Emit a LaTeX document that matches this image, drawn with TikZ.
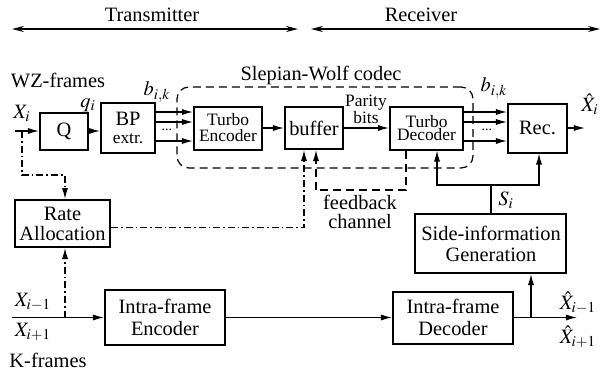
\documentclass[tikz,border=0pt]{standalone}
\usepackage{fontspec}
\setmainfont{Liberation Serif}
\usepackage{mathptmx}
\setmainfont{Liberation Serif}
\usetikzlibrary{arrows.meta}
\tikzset{
  box/.style={draw, line width=1pt, align=center, inner sep=1pt},
  arr/.style={-{Latex[length=5.5pt,width=3pt]}, line width=0.6pt},
  ln/.style={line width=0.6pt},
  dd/.style={line width=0.6pt, dash pattern=on 3.5pt off 1.5pt on 0.8pt off 1.5pt},
  ddarr/.style={dd, -{Latex[length=5.5pt,width=3pt]}},
  fb/.style={line width=0.6pt, dash pattern=on 4pt off 2.5pt, -{Latex[length=5.5pt,width=3pt]}},
  swbox/.style={draw, line width=0.6pt, dash pattern=on 4pt off 2.5pt, rounded corners=6pt, inner sep=0pt},
  tarr/.style={{Stealth[length=6pt,width=3pt]}-{Stealth[length=6pt,width=3pt]}, line width=0.6pt},
  lab/.style={inner sep=0pt},
  smallf/.style={font=\fontsize{8.7}{8}\selectfont}
}
\begin{document}
\begin{tikzpicture}[x=0.5pt,y=-0.5pt, font=\rmfamily\fontsize{10.2}{10.5}\selectfont]
\useasboundingbox (0,0) rectangle (602,371);

% top arrows
\coordinate (t1) at (12,29); \coordinate (t2) at (298,29);
\coordinate (r1) at (311,29); \coordinate (r2) at (600,29);
\draw[tarr] (t1) -- (t2);
\draw[tarr] (r1) -- (r2);
\node[lab] (ttx) at (152,15) {Transmitter};
\node[lab] (rtx) at (421,15) {Receiver};

% Slepian-Wolf dashed region
\node[swbox, minimum width=148pt, minimum height=40.5pt] (SW) at (325,127.5) {};
\node[lab] (swt) at (321,75) {Slepian-Wolf codec};

% boxes
\node[box, minimum width=24pt, minimum height=18.5pt] (Q) at (64,131) {Q};
\node[box, minimum width=27pt, minimum height=25pt, font=\rmfamily\fontsize{10.2}{9}\selectfont] (BP) at (128,128) {BP\\{\fontsize{8.7}{9}\selectfont extr.}};
\node[box, font=\rmfamily\fontsize{8.7}{8}\selectfont, minimum width=34pt, minimum height=21.5pt] (TE) at (228,128) {Turbo\\Encoder};
\node[box, minimum width=29pt, minimum height=21pt] (BUF) at (314,128) {buffer};
\node[box, font=\rmfamily\fontsize{8.7}{6.5}\selectfont, minimum width=36.5pt, minimum height=21.5pt] (TD) at (426.5,128) {Turbo\\Decoder};
\node[box, minimum width=29.5pt, minimum height=24.5pt] (REC) at (537.5,128) {Rec.};
\node[box, font=\rmfamily\fontsize{10.2}{10}\selectfont, minimum width=47.5pt, minimum height=23.5pt] (RA) at (62.5,223.5) {Rate\\Allocation};
\node[box, font=\rmfamily\fontsize{10.2}{10.5}\selectfont, minimum width=75.5pt, minimum height=29.5pt] (SI) at (491,243.5) {Side-information\\Generation};
\node[box, font=\rmfamily\fontsize{10.2}{11}\selectfont, minimum width=60pt, minimum height=27.5pt] (IE) at (165,317.5) {Intra-frame\\Encoder};
\node[box, font=\rmfamily\fontsize{10.2}{11}\selectfont, minimum width=60pt, minimum height=26pt] (ID) at (453,317.5) {Intra-frame\\Decoder};

% labels
\node[lab] (wz) at (58,80) {WZ-frames};
\node[lab] (xi) at (22,113) {$X_i$};
\node[lab] (qi) at (88,105) {$q_i$};
\node[lab] (b1) at (157,92) {$b_{i,k}$};
\node[lab] (b2) at (494,88) {$b_{i,k}$};
\node[lab, font=\rmfamily\fontsize{7}{7}\selectfont] (d1) at (167,130) {...};
\node[lab, font=\rmfamily\fontsize{7}{7}\selectfont] (d2) at (487,130) {...};
\node[lab, align=center, font=\rmfamily\fontsize{8.7}{8.5}\selectfont] (par) at (366,109) {Parity\\bits};
\node[lab] (xh) at (590,104) {$\hat{X}_i$};
\node[lab, align=center, font=\rmfamily\fontsize{10.2}{9.5}\selectfont] (fbt) at (360,212) {feedback\\channel};
\node[lab] (si) at (506,200) {$S_i$};
\node[lab] (xm) at (33,302) {$X_{i-1}$};
\node[lab] (xp) at (33,332) {$X_{i+1}$};
\node[lab] (kf) at (48,360) {K-frames};
\node[lab] (xhm) at (578,303) {$\hat{X}_{i-1}$};
\node[lab] (xhp) at (578,337) {$\hat{X}_{i+1}$};

% top row connectors
\coordinate (xin) at (15,131);
\coordinate (xj) at (22,131);
\coordinate (xk) at (22,175);
\draw[arr] (xin) -- (Q.west);
\draw[arr] (Q.east) -- (BP.west |- Q.east);
\foreach \s in {8,3,-6.5} \draw[arr] ([yshift=\s pt]BP.east) -- ([yshift=\s pt]TE.west);
\draw[arr] (TE.east) -- (BUF.west);
\draw[arr] (BUF.east) -- (TD.west);
\foreach \s in {8,3,-6.5} \draw[arr] ([yshift=\s pt]TD.east) -- ([yshift=\s pt]REC.west);
\coordinate (xout) at (585,128);
\draw[arr] (REC.east) -- (xout);

% rate allocation
\draw[ddarr] (xj) -- (xk) -| ([xshift=1.25pt]RA.north);
\draw[ddarr] ([yshift=-2pt]RA.east) -| ([xshift=-5pt]BUF.south);

% feedback channel
\coordinate (fbc) at (360,190);
\draw[fb] ([xshift=-10.25pt]TD.south) |- (fbc) -| ([xshift=1pt]BUF.south);

% side information
\coordinate (sj) at (491,185);
\draw[ln] (SI.north) -- (sj);
\draw[arr] (sj) -| ([xshift=5.25pt]TD.south);
\draw[arr] (sj) -| ([xshift=0.75pt]REC.south);

% bottom row
\coordinate (kin) at (12,317.5);
\coordinate (kj) at (65,317.5);
\draw[arr] (kin) -- (IE.west);
\draw[ddarr] (kj) -- ([xshift=1.25pt]RA.south);
\draw[arr] (IE.east) -- (ID.west);
\coordinate (kout) at (577,317.5);
\coordinate (kb) at (531,317.5);
\draw[arr] (ID.east) -- (kout);
\draw[arr] (kb) -- ([xshift=20pt]SI.south);
\end{tikzpicture}
\end{document}
